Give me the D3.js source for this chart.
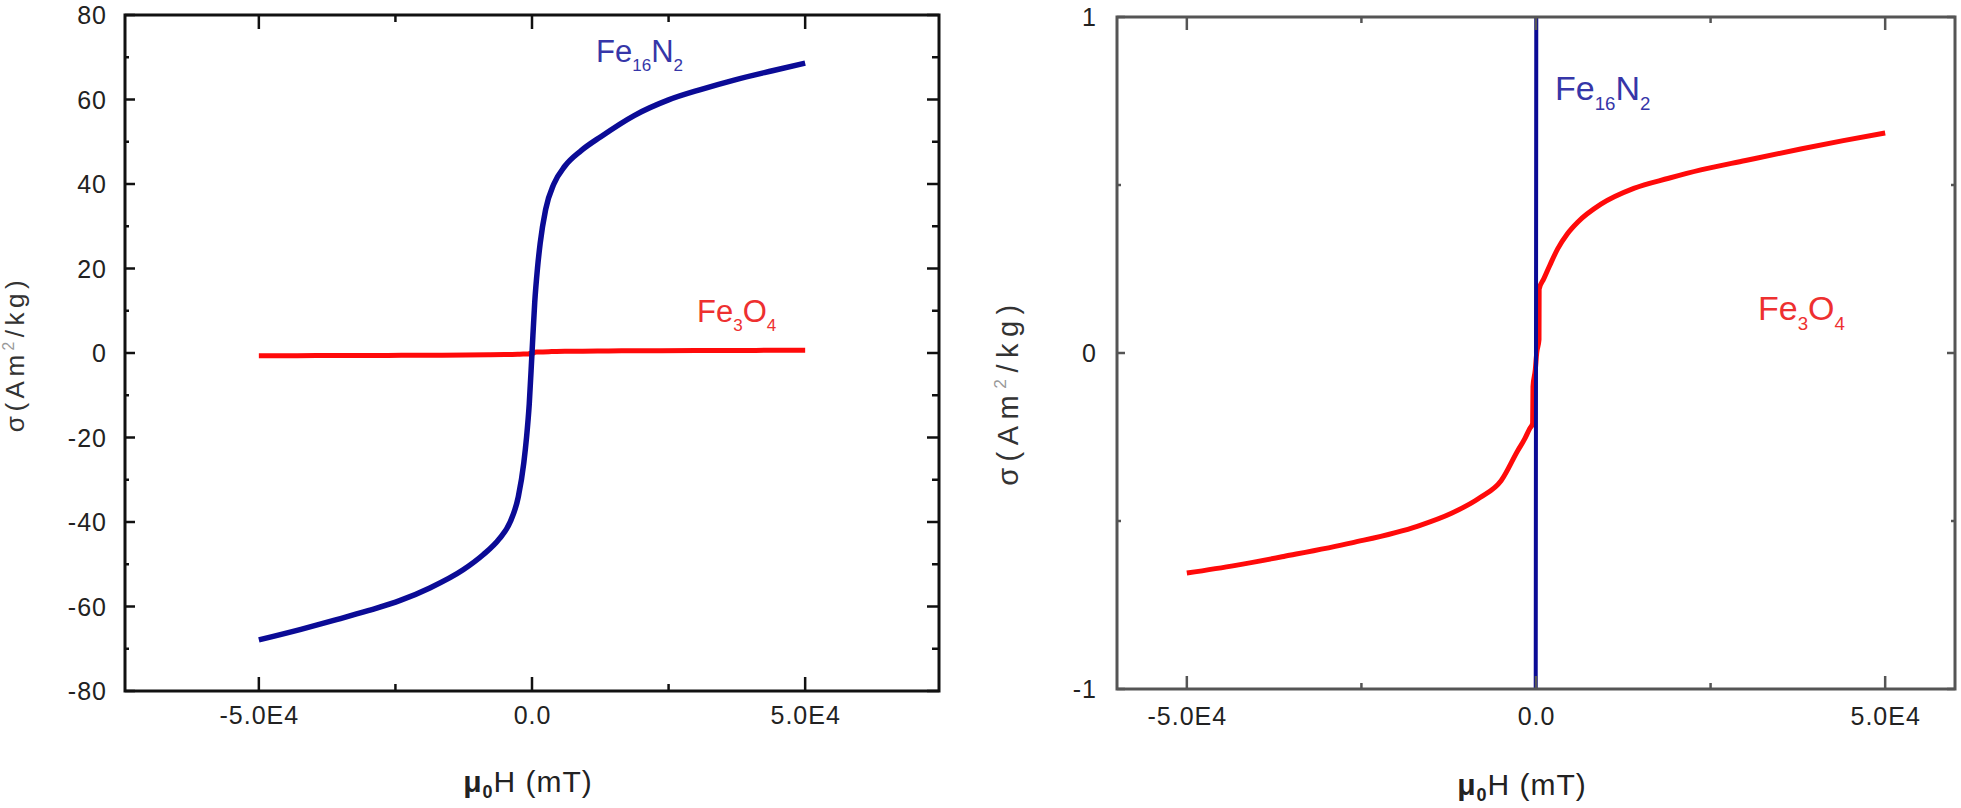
<!DOCTYPE html>
<html><head><meta charset="utf-8">
<script src="https://cdn.jsdelivr.net/npm/d3@7"></script>
<style>
html,body{margin:0;padding:0;background:#fff;}
svg{display:block;font-family:"Liberation Sans",Arial,sans-serif;}
</style></head>
<body>
<svg id="c" width="1961" height="808"></svg>
<script>
// Fe16N2 magnetization curve (field in mT, sigma in Am2/kg)
const fe16H = [-50000,-42300,-36300,-30000,-24000,-18700,-12600,-9000,-6000,-4000,-2500,-1500,-1000,-500,0,500,1000,1500,2500,4000,6000,9000,12600,18700,25000,31000,37000,44000,50000];
const fe16S = [-67.9,-65.4,-63.3,-61.0,-58.5,-55.6,-51.3,-47.8,-44.0,-40.0,-34.0,-26,-20,-12,0,12,20,26,34,40,44.2,47.9,51.2,56.2,59.9,62.4,64.6,66.8,68.6];
// Fe3O4 magnetization curve
const fe3H = [-50000,-43000,-36000,-26400,-16900,-12100,-8000,-5000,-2600,-1600,-900,-480,-430,-100,100,430,450,1100,2000,3100,4500,6000,9300,14000,19000,23600,30000,37900,44000,50000];
const fe3S = [-0.655,-0.632,-0.605,-0.565,-0.515,-0.477,-0.43,-0.38,-0.29,-0.255,-0.225,-0.21,-0.10,-0.05,0.0,0.04,0.19,0.22,0.262,0.31,0.355,0.39,0.443,0.49,0.52,0.545,0.573,0.607,0.632,0.655];
// ticks
const xMajor = [-50000, 0, 50000];
const xMinor = [-25000, 25000];
const yMajorL = [-80,-60,-40,-20,0,20,40,60,80];
const yMinorL = [-70,-50,-30,-10,10,30,50,70];
const yMajorR = [-1,0,1];
const yMinorR = [-0.5,0.5];

const fe16 = fe16H.map((h,i)=>({h, s:fe16S[i]}));
const fe3 = fe3H.map((h,i)=>({h, s:fe3S[i]}));

const svg = d3.select("#c");
const blue = "#0b0b96", red = "#ff0a0a";
const fmtX = d => d===0 ? "0.0" : (d/1e4).toFixed(1)+"E4";

function panel(o){
  const g = svg.append("g");
  const x = d3.scaleLinear().domain(o.xd).range(o.xr);
  const y = d3.scaleLinear().domain(o.yd).range(o.yr);
  const id = "clip"+o.name;
  svg.append("clipPath").attr("id",id).append("rect")
    .attr("x",o.xr[0]).attr("y",o.yr[1]).attr("width",o.xr[1]-o.xr[0]).attr("height",o.yr[0]-o.yr[1]);
  const line = d3.line().x(d=>x(d.h)).y(d=>y(d.s)).curve(d3.curveMonotoneX);
  const dg = g.append("g").attr("clip-path",`url(#${id})`);
  dg.append("path").datum(fe3).attr("d",line).attr("fill","none").attr("stroke",red).attr("stroke-width",o.lw);
  dg.append("path").datum(fe16).attr("d",line).attr("fill","none").attr("stroke",blue).attr("stroke-width",o.lw2);

  const ax = g.append("g").attr("class","axes");
  ax.append("rect").attr("x",o.xr[0]).attr("y",o.yr[1]).attr("width",o.xr[1]-o.xr[0]).attr("height",o.yr[0]-o.yr[1])
    .attr("fill","none").attr("stroke",o.frame).attr("stroke-width",o.fw);
  const tick = (x1,y1,x2,y2)=>ax.append("line").attr("x1",x1).attr("y1",y1).attr("x2",x2).attr("y2",y2).attr("stroke",o.frame).attr("stroke-width",o.tw);
  const top=o.yr[1], bot=o.yr[0], lft=o.xr[0], rgt=o.xr[1];
  xMajor.forEach(v=>{tick(x(v),bot,x(v),bot-o.xMaj); tick(x(v),top,x(v),top+o.xMaj);});
  xMinor.forEach(v=>{tick(x(v),bot,x(v),bot-o.xMin); tick(x(v),top,x(v),top+o.xMin);});
  o.yMaj.forEach(v=>{tick(lft,y(v),lft+o.yMajL,y(v)); tick(rgt,y(v),rgt-o.yMajR,y(v));});
  o.yMin.forEach(v=>{tick(lft,y(v),lft+o.yMinL,y(v)); tick(rgt,y(v),rgt-o.yMinR,y(v));});

  const xa = d3.axisBottom(x).tickValues(xMajor).tickFormat(fmtX).tickSize(0).tickPadding(0);
  const xg = g.append("g").attr("transform",`translate(0,${o.xLabY})`).call(xa);
  xg.select(".domain").remove();
  xg.selectAll("text").attr("dy",null).attr("dominant-baseline","middle").attr("font-size",o.fs).attr("fill","#222")
    .attr("font-family","'Liberation Sans',Arial,sans-serif").attr("letter-spacing",o.ls);
  const ya = d3.axisLeft(y).tickValues(o.yMaj).tickFormat(d=>String(d)).tickSize(0).tickPadding(0);
  const yg = g.append("g").attr("transform",`translate(${o.yLabX},0)`).call(ya);
  yg.select(".domain").remove();
  yg.selectAll("text").attr("dy","0.35em").attr("x",0).attr("font-size",o.fs).attr("fill","#222")
    .attr("font-family","'Liberation Sans',Arial,sans-serif").attr("letter-spacing",o.ls);

  const yt = g.append("text").attr("transform",`translate(${o.ytX},${o.ytY}) rotate(-90)`)
    .attr("text-anchor","middle").attr("font-size",o.ytFs).attr("fill","#333").attr("letter-spacing",o.ytLs);
  yt.append("tspan").text("σ(Am");
  yt.append("tspan").text("2").attr("font-size",o.ytFs*0.6).attr("dy",-o.ytFs*0.4).attr("fill","#999");
  yt.append("tspan").text("/kg)").attr("dy",o.ytFs*0.4);
  const xt = g.append("text").attr("x",o.xtX).attr("y",o.xtY).attr("text-anchor","middle").attr("font-size",o.xtFs).attr("fill","#222").attr("letter-spacing",1);
  xt.append("tspan").text("μ").attr("font-weight","bold");
  xt.append("tspan").text("0").attr("font-weight","bold").attr("font-size",o.xtFs*0.6).attr("dy",o.xtFs*0.2);
  xt.append("tspan").text("H (mT)").attr("dy",-o.xtFs*0.2);

  function chem(px,py,parts,col,fs){
    const t = g.append("text").attr("x",px).attr("y",py).attr("font-size",fs).attr("fill",col);
    parts.forEach(p=>{
      if(p.sub){ t.append("tspan").text(p.t).attr("font-size",fs*0.55).attr("dy",fs*0.3); }
      else { t.append("tspan").text(p.t).attr("dy",p.after? -fs*0.3 : 0); }
    });
  }
  chem(o.l16[0],o.l16[1],[{t:"Fe"},{t:"16",sub:true},{t:"N",after:true},{t:"2",sub:true}],"#3636a8",o.lfs);
  chem(o.l3[0],o.l3[1],[{t:"Fe"},{t:"3",sub:true},{t:"O",after:true},{t:"4",sub:true}],"#ee3030",o.lfs);
}

panel({name:"L", xd:[-74500,74500], xr:[125,939], yd:[-80,80], yr:[691,15],
  lw:5, lw2:5.5, frame:"#111", fw:3, tw:2.5,
  xMaj:14, xMin:7, yMaj:yMajorL, yMin:yMinorL, yMajL:10, yMinL:4, yMajR:12, yMinR:7,
  xLabY:717, yLabX:107, fs:25, ls:1,
  ytX:24, ytY:354, ytFs:26, ytLs:4.5,
  xtX:528, xtY:792, xtFs:30,
  l16:[596,62], l3:[697,322], lfs:31});

panel({name:"R", xd:[-60000,60000], xr:[1117,1955], yd:[-1,1], yr:[689,17],
  lw:5, lw2:4, frame:"#555", fw:3, tw:2.5,
  xMaj:13, xMin:6, yMaj:yMajorR, yMin:yMinorR, yMajL:8, yMinL:4, yMajR:8, yMinR:4,
  xLabY:718, yLabX:1097, fs:25, ls:1,
  ytX:1018, ytY:392, ytFs:29, ytLs:6.5,
  xtX:1522, xtY:795, xtFs:30,
  l16:[1555,100], l3:[1758,320], lfs:34});
</script>
</body></html>
